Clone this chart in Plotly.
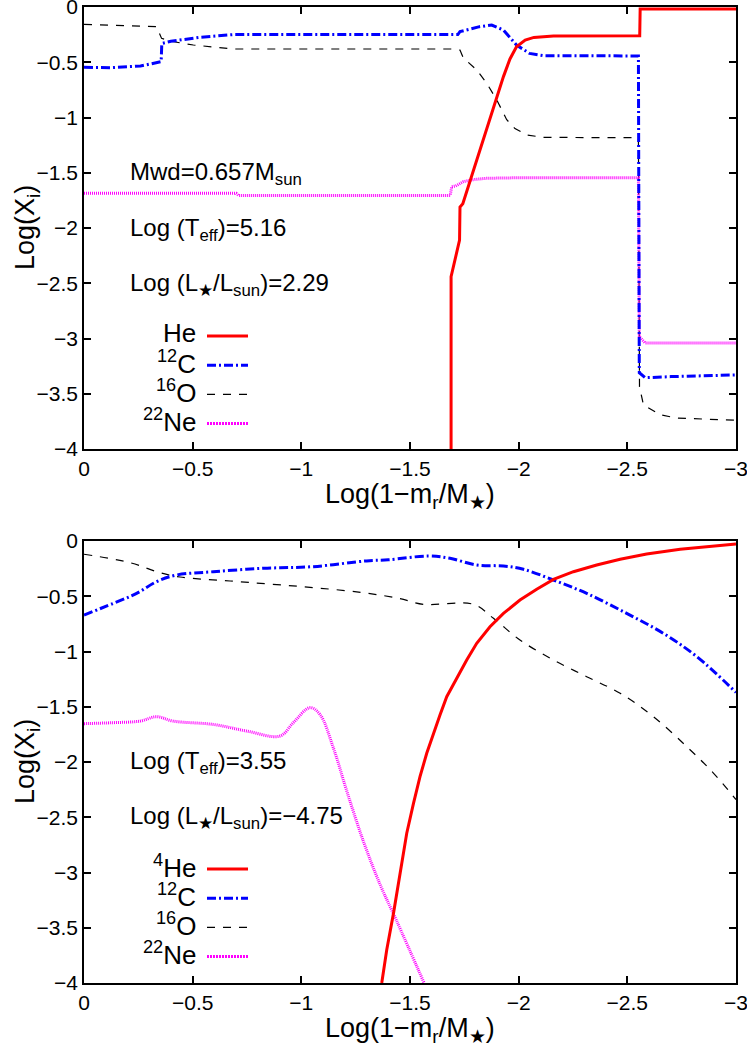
import plotly.graph_objects as go

# ---- top panel (Mwd=0.657, hot) ----
he_top_x = [-1.689, -1.689, -1.728, -1.730, -1.743, -1.80, -1.87, -1.93, -1.96, -1.99, -2.03, -2.07, -2.16, -2.557, -2.559, -3.0]
he_top_y = [-4.0, -2.44, -2.11, -1.81, -1.78, -1.43, -1.00, -0.63, -0.47, -0.36, -0.30, -0.275, -0.262, -0.26, -0.018, -0.018]

c_top_x = [0, -0.12, -0.26, -0.355, -0.358, -0.40, -0.534, -0.687, -1.0, -1.36, -1.72, -1.73, -1.82, -1.876,
           -1.93, -1.99, -2.05, -2.114, -2.551, -2.555, -2.582, -2.7, -3.0]
c_top_y = [-0.546, -0.55, -0.534, -0.495, -0.33, -0.31, -0.274, -0.25, -0.25, -0.25, -0.25, -0.223, -0.178, -0.163,
           -0.208, -0.344, -0.42, -0.44, -0.443, -3.31, -3.355, -3.345, -3.33]

o_top_x = [0, -0.334, -0.357, -0.40, -0.503, -0.687, -1.0, -1.692, -1.73, -1.745, -1.807, -1.853, -1.899, -1.945,
           -1.983, -2.037, -2.113, -2.551, -2.556, -2.574, -2.651, -2.727, -3.0]
o_top_y = [-0.157, -0.178, -0.284, -0.31, -0.344, -0.38, -0.38, -0.38, -0.39, -0.46, -0.57, -0.69, -0.84, -1.02,
           -1.10, -1.158, -1.18, -1.183, -3.436, -3.60, -3.69, -3.72, -3.74]

ne_top_x = [0, -0.70, -0.71, -1.685, -1.692, -1.71, -1.746, -1.80, -1.853, -2.006, -2.551, -2.555, -2.582, -3.0]
ne_top_y = [-1.686, -1.686, -1.705, -1.705, -1.626, -1.62, -1.58, -1.56, -1.55, -1.545, -1.545, -2.984, -3.04, -3.04]

# ---- bottom panel (cool) ----
he_bot_x = [-1.370, -1.393, -1.424, -1.454, -1.485, -1.516, -1.546, -1.577, -1.608, -1.638, -1.669, -1.715, -1.761,
            -1.807, -1.868, -1.930, -2.006, -2.083, -2.160, -2.252, -2.359, -2.467, -2.589, -2.743, -2.896, -3.0]
he_bot_y = [-4.0, -3.70, -3.37, -3.007, -2.645, -2.374, -2.133, -1.921, -1.740, -1.575, -1.409, -1.243, -1.077,
            -0.926, -0.776, -0.655, -0.534, -0.437, -0.347, -0.278, -0.217, -0.166, -0.118, -0.075, -0.045, -0.027]

c_bot_x = [0, -0.135, -0.242, -0.334, -0.426, -0.595, -0.825, -1.055, -1.3, -1.4, -1.585, -1.684, -1.807, -1.93,
           -2.022, -2.16, -2.313, -2.497, -2.666, -2.82, -3.0]
c_bot_y = [-0.67, -0.564, -0.474, -0.368, -0.308, -0.278, -0.247, -0.232, -0.18, -0.17, -0.136, -0.157, -0.217, -0.226,
           -0.256, -0.353, -0.474, -0.655, -0.836, -1.047, -1.37]

o_bot_x = [0, -0.212, -0.35, -0.442, -0.672, -1.055, -1.285, -1.45, -1.561, -1.792, -1.884, -2.006, -2.16, -2.313,
           -2.467, -2.62, -2.774, -2.896, -3.0]
o_bot_y = [-0.12, -0.196, -0.287, -0.326, -0.362, -0.422, -0.468, -0.52, -0.573, -0.573, -0.70, -0.896, -1.077, -1.228,
           -1.378, -1.59, -1.862, -2.10, -2.34]

ne_bot_x = [0, -0.135, -0.258, -0.334, -0.41, -0.595, -0.749, -0.902, -0.963, -1.04, -1.086, -1.147, -1.209, -1.285,
            -1.362, -1.439, -1.565]
ne_bot_y = [-1.653, -1.644, -1.63, -1.59, -1.63, -1.66, -1.72, -1.765, -1.644, -1.508, -1.57, -1.87, -2.262, -2.715,
            -3.107, -3.44, -4.0]

x_ticks = [0, -0.5, -1, -1.5, -2, -2.5, -3]
y_ticks = [0, -0.5, -1, -1.5, -2, -2.5, -3, -3.5, -4]

W, H = 747, 1046
FONT = "Liberation Sans, Arial, sans-serif"

styles = {
    "He": dict(color="#ff0000", width=3, dash="solid"),
    "C": dict(color="#0000ff", width=3, dash="9px,3px,2px,3px"),
    "O": dict(color="#000000", width=1.2, dash="8px,8px"),
    "Ne": dict(color="#ff00ff", width=3, dash="1px,1px"),
}

fig = go.Figure()


def add_line(x, y, key, xa, ya, shape="linear"):
    fig.add_trace(go.Scatter(
        x=x, y=y, mode="lines", xaxis=xa, yaxis=ya,
        line=dict(shape=shape, **styles[key]),
        showlegend=False, hoverinfo="skip"
    ))


add_line(o_top_x, o_top_y, "O", "x", "y")
add_line(ne_top_x, ne_top_y, "Ne", "x", "y")
add_line(c_top_x, c_top_y, "C", "x", "y")
add_line(he_top_x, he_top_y, "He", "x", "y")

add_line(o_bot_x, o_bot_y, "O", "x2", "y2", "spline")
add_line(ne_bot_x, ne_bot_y, "Ne", "x2", "y2", "spline")
add_line(c_bot_x, c_bot_y, "C", "x2", "y2", "spline")
add_line(he_bot_x, he_bot_y, "He", "x2", "y2")


def px(x):
    return x / W


def py(y):
    return 1 - y / H


axis_common = dict(
    showline=True, linecolor="black", linewidth=1.5, mirror="ticks",
    ticks="inside", ticklen=7, tickwidth=1.5, tickcolor="black",
    showgrid=False, zeroline=False, automargin=False, ticklabeloverflow="allow",
    tickfont=dict(family=FONT, size=21, color="black"),
)

x_dom = [px(84), px(736)]
fig.update_layout(
    width=W, height=H,
    margin=dict(l=0, r=0, t=0, b=0, pad=0, autoexpand=False),
    paper_bgcolor="white", plot_bgcolor="white",
    xaxis=dict(domain=x_dom, range=[0, -3], tickvals=x_ticks, anchor="y", **axis_common),
    yaxis=dict(domain=[py(449), py(7)], range=[-4, 0], tickvals=y_ticks, anchor="x", **axis_common),
    xaxis2=dict(domain=x_dom, range=[0, -3], tickvals=x_ticks, anchor="y2", **axis_common),
    yaxis2=dict(domain=[py(983), py(541)], range=[-4, 0], tickvals=y_ticks, anchor="x2", **axis_common),
)

annots = []


def text(x, y, s, size=24, xanchor="left", angle=0):
    annots.append(dict(
        x=px(x), y=py(y), xref="paper", yref="paper", text=s, showarrow=False,
        xanchor=xanchor, yanchor="middle", textangle=angle,
        font=dict(family=FONT, size=size, color="black")
    ))


# axis titles
for top, bot in [(7, 449), (541, 983)]:
    text(27, (top + bot) / 2, "Log(X<sub>i</sub>)", size=27, xanchor="center", angle=-90)
    text(410, bot + 47, "Log(1\u2212m<sub>r</sub>/M<sub>\u2605</sub>)", size=27, xanchor="center")

# panel notes
text(128, 174, "Mwd=0.657M<sub>sun</sub>")
text(128, 229, "Log (T<sub>eff</sub>)=5.16")
text(128, 284, "Log (L<sub>\u2605</sub>/L<sub>sun</sub>)=2.29")
text(128, 762, "Log (T<sub>eff</sub>)=3.55")
text(128, 817, "Log (L<sub>\u2605</sub>/L<sub>sun</sub>)=\u22124.75")

# key (gnuplot style: label left, sample right)
shapes = []
keys = ["He", "C", "O", "Ne"]
labels_top = ["He", "<sup>12</sup>C", "<sup>16</sup>O", "<sup>22</sup>Ne"]
labels_bot = ["<sup>4</sup>He", "<sup>12</sup>C", "<sup>16</sup>O", "<sup>22</sup>Ne"]
for y0, labels in [(336, labels_top), (869, labels_bot)]:
    for i, (k, lab) in enumerate(zip(keys, labels)):
        yy = y0 + i * 29.2
        text(198, yy - 3, lab, size=26, xanchor="right")
        st = styles[k]
        dash = "2px,1px" if k == "Ne" else st["dash"]
        shapes.append(dict(
            type="line", xref="paper", yref="paper",
            x0=px(207), x1=px(248), y0=py(yy), y1=py(yy),
            line=dict(color=st["color"], width=st["width"], dash=dash)
        ))

fig.update_layout(annotations=annots, shapes=shapes)

# drop the page's default body margin so the figure sits at the window origin
fig.write_html("out.html", config={"displayModeBar": False},
               post_script="document.body.style.margin='0';")
